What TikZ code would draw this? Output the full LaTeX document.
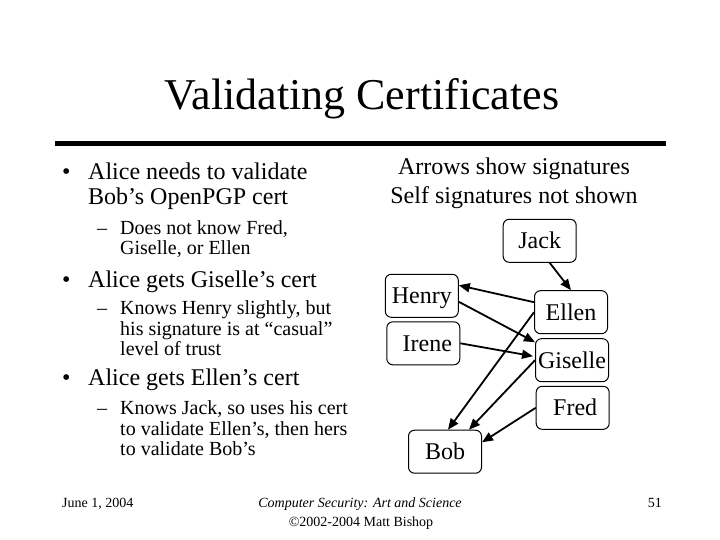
\documentclass[tikz,border=0pt]{standalone}
\usepackage{fontspec}
\setmainfont{Liberation Serif}
\usetikzlibrary{arrows.meta}
\begin{document}
\begin{tikzpicture}[x=1pt,y=-1pt,
  nbox/.style={draw, rounded corners=6pt, line width=1pt, minimum width=73pt, minimum height=43pt,
    inner sep=0pt, text height=16pt, text depth=0pt, font=\fontsize{24}{24}\selectfont},
  sig/.style={line width=1.8pt, -{Triangle[length=11pt,width=9pt]}},
  txt/.style={anchor=base west, inner sep=0pt},
  mainl/.style={txt, font=\fontsize{24}{24}\selectfont},
  subl/.style={txt, font=\fontsize{20}{20}\selectfont},
  ctr/.style={anchor=base, inner sep=0pt, font=\fontsize{24}{24}\selectfont},
  foot/.style={anchor=base, inner sep=0pt, font=\fontsize{14}{14}\selectfont}]
\useasboundingbox[fill=white] (0,0) rectangle (720,540);

% title and rule
\node[anchor=base, inner sep=0pt, font=\fontsize{44}{44}\selectfont] (title) at (362,109.5) {Validating Certificates};
\coordinate (rl) at (55,143.5);
\coordinate (rr) at (666,143.5);
\draw[line width=5pt] (rl) -- (rr);

% left column
\node[mainl] (b1) at (62,180) {•};
\node[mainl] (t1a) at (88,180) {Alice needs to validate};
\node[mainl] (t1b) at (88,205) {Bob’s OpenPGP cert};
\node[subl] (d1) at (97,235) {–};
\node[subl] (s1a) at (120,235) {Does not know Fred,};
\node[subl] (s1b) at (120,254.5) {Giselle, or Ellen};
\node[mainl] (b2) at (62,287) {•};
\node[mainl] (t2a) at (88,287) {Alice gets Giselle’s cert};
\node[subl] (d2) at (97,314) {–};
\node[subl] (s2a) at (120,314) {Knows Henry slightly, but};
\node[subl] (s2b) at (120,335.5) {his signature is at “casual”};
\node[subl] (s2c) at (120,355.5) {level of trust};
\node[mainl] (b3) at (62,385) {•};
\node[mainl] (t3a) at (88,385) {Alice gets Ellen’s cert};
\node[subl] (d3) at (97,414) {–};
\node[subl] (s3a) at (120,414) {Knows Jack, so uses his cert};
\node[subl] (s3b) at (120,435.5) {to validate Ellen’s, then hers};
\node[subl] (s3c) at (120,455.5) {to validate Bob’s};

% right header
\node[ctr] (h1) at (514,175) {Arrows show signatures};
\node[ctr] (h2) at (514,203.3) {Self signatures not shown};

% graph nodes
\node[nbox] (jack) at (539.7,240.8) {Jack};
\node[nbox] (henry) at (421.8,295.8) {Henry};
\node[nbox] (ellen) at (571,312.2) {Ellen};
\node[nbox] (irene) at (423.3,343.3) {\hspace{8pt}Irene};
\node[nbox] (giselle) at (572,360.2) {Giselle};
\node[nbox] (fred) at (572.7,407.8) {\hspace{5pt}Fred};
\node[nbox] (bob) at (445,451.7) {Bob};

% signatures
\draw[sig] ([xshift=10pt]jack.south) -- (ellen.north);
\draw[sig] ([yshift=10pt]ellen.west) -- ([yshift=10.5pt]henry.east);
\draw[sig] ([yshift=-6pt]henry.east) -- ([yshift=18pt]giselle.west);
\draw[sig] (irene.east) -- ([xshift=-2pt,yshift=4pt]giselle.west);
\draw[sig] (ellen.west) -- ([xshift=3pt]bob.north);
\draw[sig] (giselle.west) -- ([xshift=24pt]bob.north);
\draw[sig] (fred.west) -- ([yshift=9.4pt]bob.east);

% footer
\node[anchor=base west, inner sep=0pt, font=\fontsize{14}{14}\selectfont] (date) at (62,507) {June 1, 2004};
\node[foot, font=\fontsize{14}{14}\selectfont\itshape] (book) at (360,507) {Computer Security: Art and Science};
\node[foot] (copy) at (361,526) {©2002-2004 Matt Bishop};
\node[anchor=base east, inner sep=0pt, font=\fontsize{14}{14}\selectfont] (page) at (662,507) {51};
\end{tikzpicture}
\end{document}
